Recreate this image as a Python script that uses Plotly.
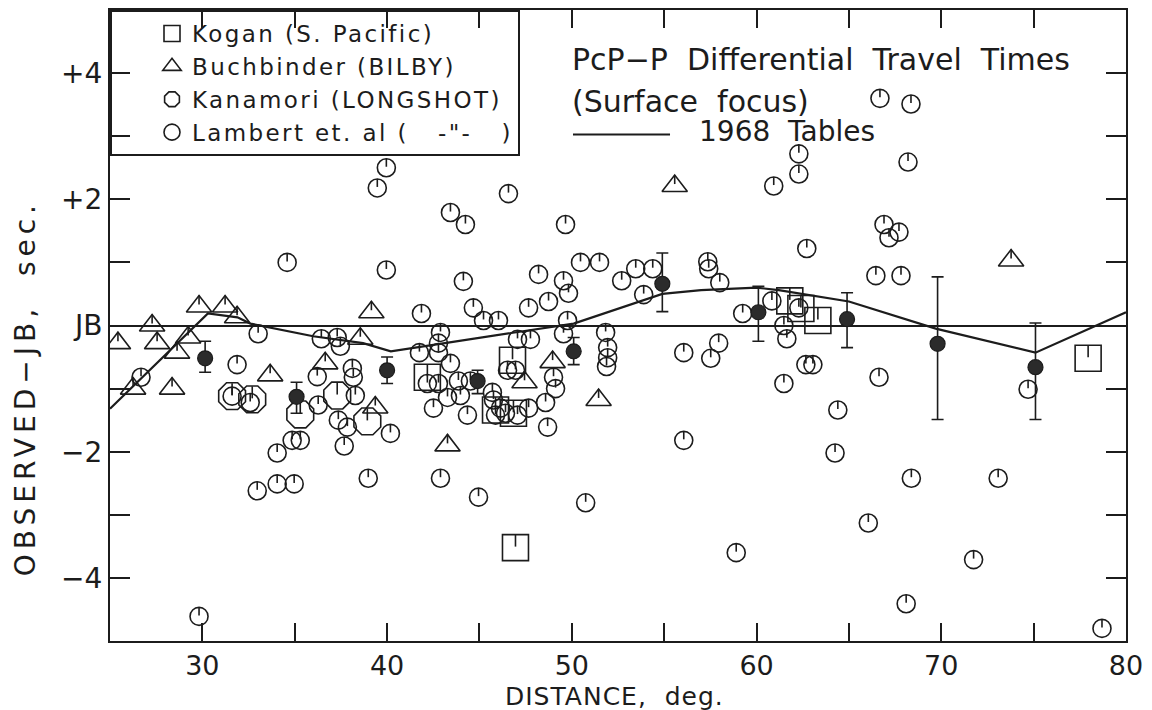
import plotly.graph_objects as go

# ---------------- data ----------------
kogan_x = [42.18, 46.79, 45.87, 46.84, 46.95, 61.80, 62.40, 63.32, 77.95]
kogan_y = [-0.82, -0.55, -1.34, -1.39, -3.52, 0.39, 0.27, 0.08, -0.52]

buch_x = [25.43, 26.25, 27.28, 27.55, 28.36, 28.63, 29.23, 29.82, 31.23, 31.88,
          33.67, 36.65, 38.55, 39.15, 39.36, 43.27, 47.44, 48.96, 51.45, 55.57, 73.78]
buch_y = [-0.28, -1.00, 0.00, -0.28, -1.00, -0.43, -0.19, 0.30, 0.30, 0.13,
          -0.79, -0.60, -0.21, 0.21, -1.30, -1.90, -0.90, -0.58, -1.18, 2.21, 1.03]

kana_x = [31.61, 32.70, 35.30, 37.30, 38.93]
kana_y = [-1.12, -1.17, -1.41, -1.11, -1.52]

lamb_x = [29.82, 39.47, 39.96, 34.59, 39.96, 41.86, 43.43, 44.24, 46.57, 49.66,
          44.13, 48.20, 49.55, 50.47, 51.50, 52.70, 53.46, 54.38, 57.36, 57.41,
          58.01, 66.68, 68.36, 62.29, 62.29, 60.93, 68.20, 62.72, 66.90, 67.71,
          67.17, 66.46, 67.82, 59.25, 60.83, 61.48, 61.64, 62.29, 57.52, 57.95,
          62.67, 63.05, 61.48, 66.63, 64.40, 74.70, 56.06, 56.06, 50.75, 58.90,
          64.25, 66.05, 68.38, 68.10, 73.08, 71.75, 78.70, 33.02, 26.68, 31.88,
          36.44, 37.30, 37.47, 36.22, 38.12, 38.17, 38.28, 36.27, 32.59, 31.61,
          37.36, 37.85, 37.68, 34.86, 35.30, 34.05, 40.18, 32.97, 34.05, 34.97,
          38.98, 42.89, 44.95, 42.51, 44.35, 43.27, 43.97, 45.76, 46.41, 47.06,
          45.87, 47.66, 48.58, 48.69, 49.12, 49.01, 44.67, 45.22, 46.03, 47.66,
          48.74, 49.82, 53.89, 42.89, 42.78, 42.78, 41.75, 43.43, 42.18, 42.78,
          47.06, 47.76, 46.52, 46.95, 49.77, 49.55, 51.83, 51.94, 51.94, 51.88,
          43.86, 44.51, 45.70, 46.14]
lamb_y = [-4.61, 2.18, 2.50, 1.00, 0.88, 0.19, 1.79, 1.60, 2.09, 1.60,
          0.70, 0.81, 0.71, 1.00, 1.00, 0.71, 0.90, 0.90, 1.01, 0.90,
          0.68, 3.60, 3.51, 2.72, 2.40, 2.21, 2.59, 1.22, 1.60, 1.48,
          1.39, 0.79, 0.79, 0.19, 0.39, 0.00, -0.21, 0.28, -0.52, -0.28,
          -0.62, -0.62, -0.92, -0.82, -1.34, -1.01, -0.43, -1.82, -2.81, -3.60,
          -2.02, -3.13, -2.42, -4.41, -2.42, -3.71, -4.80, -0.13, -0.82, -0.62,
          -0.21, -0.19, -0.33, -0.81, -0.68, -0.82, -1.11, -1.26, -1.22, -1.12,
          -1.50, -1.61, -1.91, -1.82, -1.82, -2.02, -1.71, -2.62, -2.51, -2.51,
          -2.42, -2.42, -2.72, -1.31, -1.42, -1.14, -1.11, -1.18, -1.39, -1.42,
          -1.42, -1.31, -1.22, -1.61, -1.00, -0.82, 0.28, 0.08, 0.08, 0.28,
          0.38, 0.51, 0.49, -0.11, -0.28, -0.43, -0.43, -0.60, -0.92, -0.92,
          -0.22, -0.22, -0.71, -0.71, 0.08, -0.13, -0.11, -0.35, -0.51, -0.65,
          -0.88, -0.88, -1.06, -1.31]

mean_x = [30.15, 35.1, 40.0, 44.9, 50.1, 54.9, 60.1, 64.9, 69.8, 75.1]
mean_y = [-0.52, -1.13, -0.71, -0.88, -0.41, 0.66, 0.21, 0.10, -0.29, -0.66]
err_plus = [0.27, 0.23, 0.21, 0.17, 0.22, 0.49, 0.41, 0.42, 1.06, 0.70]
err_minus = [0.22, 0.26, 0.21, 0.20, 0.21, 0.44, 0.46, 0.45, 1.20, 0.83]

tab_x = [25, 30.3, 31.9, 32.6, 36.0, 38.7, 40.2, 41.4, 43.3, 50.1, 54.9, 57.0,
         60.0, 61.2, 65.0, 69.7, 75.1, 80]
tab_y = [-1.32, 0.19, 0.13, 0.03, -0.17, -0.28, -0.41, -0.36, -0.27, 0.03, 0.50, 0.56,
         0.60, 0.56, 0.38, -0.05, -0.43, 0.21]

x_ticks = [25, 30, 35, 40, 45, 50, 55, 60, 65, 70, 75, 80]
x_labels = ["", "30", "", "40", "", "50", "", "60", "", "70", "", "80"]
y_ticks = [-5, -4, -3, -2, -1, 0, 1, 2, 3, 4, 5]
y_labels = ["", "\u22124", "", "\u22122", "", "JB", "", "+2", "", "+4", ""]

legend_names = ["Kogan (S. Pacific)", "Buchbinder (BILBY)",
                "Kanamori (LONGSHOT)", "Lambert et. al (   -\"-   )"]

INK = "#1c1c1c"
FONT = "DejaVu Sans"


def spaced(s, px):
    return '<span style="letter-spacing:%spx">%s</span>' % (px, s)


fig = go.Figure()

# 1968 tables curve
fig.add_trace(go.Scatter(x=tab_x, y=tab_y, mode="lines", showlegend=False,
                         line=dict(color=INK, width=2.2), hoverinfo="skip"))


def add_series(x, y, name, symbol, size, tick_len, tick_off):
    fig.add_trace(go.Scatter(
        x=x, y=y, mode="markers", name=spaced(name, 2.4),
        marker=dict(symbol=symbol, size=size, color=INK,
                    line=dict(color=INK, width=1.6))))
    rd = tick_len / 2.0
    fig.add_trace(go.Scatter(
        x=x, y=y, mode="markers", showlegend=False, hoverinfo="skip",
        marker=dict(symbol="line-ns", size=rd / 0.7, color=INK, angle=180,
                    standoff=rd + tick_off,
                    line=dict(color=INK, width=1.6))))


add_series(kogan_x, kogan_y, legend_names[0], "square-open", 26, 12, 1)
add_series(buch_x, buch_y, legend_names[1], "triangle-up-open", 22, 9, 2)
add_series(kana_x, kana_y, legend_names[2], "octagon-open", 29, 12, 1)
add_series(lamb_x, lamb_y, legend_names[3], "circle-open", 18, 8, 1)

# means with error bars
fig.add_trace(go.Scatter(
    x=mean_x, y=mean_y, mode="markers", showlegend=False,
    marker=dict(symbol="circle", size=15, color="#2b2b2b",
                line=dict(color=INK, width=1.2)),
    error_y=dict(type="data", symmetric=False, array=err_plus,
                 arrayminus=err_minus, color=INK, thickness=1.6, width=6)))

fig.update_xaxes(range=[25, 80], tickvals=x_ticks, ticktext=x_labels,
                 ticks="inside", ticklen=18, tickwidth=1.6, tickcolor=INK,
                 showline=True, linecolor=INK, linewidth=2, mirror="ticks",
                 showgrid=False, zeroline=False,
                 tickfont=dict(family=FONT, size=27, color=INK))
fig.update_yaxes(range=[-5, 5], tickvals=y_ticks, ticktext=y_labels,
                 ticks="inside", ticklen=20, tickwidth=1.6, tickcolor=INK,
                 showline=True, linecolor=INK, linewidth=2, mirror="ticks",
                 showgrid=False, zeroline=True, zerolinecolor=INK, zerolinewidth=1.5,
                 tickfont=dict(family=FONT, size=28, color=INK))

# axis titles
fig.add_annotation(xref="paper", yref="paper", x=0.4966, y=-0.0885, xanchor="center",
                   yanchor="middle", showarrow=False,
                   text=spaced("DISTANCE,  deg.", 1),
                   font=dict(family=FONT, size=25, color=INK))
fig.add_annotation(xref="paper", yref="paper", x=-0.083, y=0.40, xanchor="center",
                   yanchor="middle", showarrow=False, textangle=-90,
                   text=spaced("OBSERVED\u2212JB,  sec.", 5),
                   font=dict(family=FONT, size=28, color=INK))

fig.add_annotation(xref="paper", yref="paper", x=0.4528, y=0.921, xanchor="left",
                   yanchor="middle", showarrow=False,
                   text="PcP\u2212P  Differential  Travel  Times",
                   font=dict(family=FONT, size=30, color=INK))
fig.add_annotation(xref="paper", yref="paper", x=0.4528, y=0.855, xanchor="left",
                   yanchor="middle", showarrow=False, text="(Surface  focus)",
                   font=dict(family=FONT, size=30, color=INK))
fig.add_annotation(xref="paper", yref="paper", x=0.5778, y=0.807, xanchor="left",
                   yanchor="middle", showarrow=False, text="1968  Tables",
                   font=dict(family=FONT, size=28, color=INK))
fig.add_shape(type="line", xref="paper", yref="paper", x0=0.4557, x1=0.5512,
              y0=0.8025, y1=0.8025, line=dict(color=INK, width=2))

fig.update_layout(
    width=1152, height=710, autosize=False,
    margin=dict(l=110, r=26, t=8, b=69),
    paper_bgcolor="white", plot_bgcolor="white",
    font=dict(family=FONT, color=INK),
    legend=dict(x=0, y=1, xanchor="left", yanchor="top",
                bgcolor="rgba(0,0,0,0)", bordercolor=INK, borderwidth=2,
                font=dict(family=FONT, size=23, color=INK),
                itemsizing="trace", indentation=40, tracegroupgap=0),
)

fig.write_html("out.html")
